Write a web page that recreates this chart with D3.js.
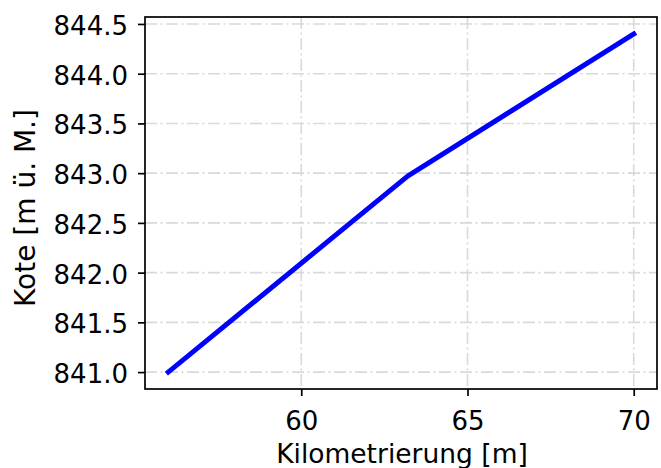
<!DOCTYPE html>
<html>
<head>
<meta charset="utf-8">
<script src="https://cdn.jsdelivr.net/npm/d3@7"></script>
<style>
  html, body { margin: 0; padding: 0; background: #fff; }
  svg { display: block; }
  text { font-family: "DejaVu Sans", sans-serif; fill: #000; }
</style>
</head>
<body>
<svg id="chart" width="661" height="468"></svg>
<script>
// Longitudinal profile: elevation along the chainage
const chainage = [56.0, 63.2, 70.0];
const elevation = [841.0, 842.97, 844.4];
const xTicks = [60, 65, 70];
const yTicks = [841.0, 841.5, 842.0, 842.5, 843.0, 843.5, 844.0, 844.5];
const xLabel = "Kilometrierung [m]";
const yLabel = "Kote [m ü. M.]";

const W = 661, H = 468;
const m = { left: 145, right: 657, top: 17, bottom: 389 };

const svg = d3.select("#chart");

// 5 % padding around the data range on both axes
const xExt = d3.extent(chainage), yExt = d3.extent(elevation);
const xPad = (xExt[1] - xExt[0]) * 0.05, yPad = (yExt[1] - yExt[0]) * 0.05;
const x = d3.scaleLinear().domain([xExt[0] - xPad, xExt[1] + xPad]).range([m.left, m.right]);
const y = d3.scaleLinear().domain([yExt[0] - yPad, yExt[1] + yPad]).range([m.bottom, m.top]);

// grid
const grid = svg.append("g")
  .attr("stroke", "#d9d9d9")
  .attr("stroke-width", 1.6)
  .attr("stroke-dasharray", "12,3.5,2,3.5");
grid.selectAll("line.v").data(xTicks).join("line")
  .attr("x1", d => x(d)).attr("x2", d => x(d))
  .attr("y1", m.top).attr("y2", m.bottom);
grid.selectAll("line.h").data(yTicks).join("line")
  .attr("y1", d => y(d)).attr("y2", d => y(d))
  .attr("x1", m.left).attr("x2", m.right);

// profile line
const line = d3.line().x((d, i) => x(chainage[i])).y(d => y(d));
svg.append("path")
  .datum(elevation)
  .attr("fill", "none")
  .attr("stroke", "#0000ff")
  .attr("stroke-width", 5)
  .attr("stroke-linejoin", "round")
  .attr("stroke-linecap", "square")
  .attr("d", line);

// axes
const fmtY = d3.format(".1f");
const xAxis = d3.axisBottom(x).tickValues(xTicks).tickSize(7).tickFormat(d3.format("d"));
const yAxis = d3.axisLeft(y).tickValues(yTicks).tickSize(7).tickPadding(10).tickFormat(fmtY);

const gx = svg.append("g").attr("transform", `translate(0,${m.bottom})`).call(xAxis);
const gy = svg.append("g").attr("transform", `translate(${m.left},0)`).call(yAxis);
[gx, gy].forEach(g => {
  g.select(".domain").remove();
  g.selectAll(".tick line").attr("stroke", "#000").attr("stroke-width", 1.7);
  g.selectAll(".tick text").attr("font-size", 26).attr("font-family", "DejaVu Sans").attr("fill", "#000");
});
gx.selectAll(".tick text").attr("y", 41).attr("dy", 0);
gy.selectAll(".tick text").attr("dy", "0.4em");

// frame
svg.append("rect")
  .attr("x", m.left).attr("y", m.top)
  .attr("width", m.right - m.left).attr("height", m.bottom - m.top)
  .attr("fill", "none").attr("stroke", "#000").attr("stroke-width", 1.7);

// labels
svg.append("text")
  .attr("x", (m.left + m.right) / 2 + 1).attr("y", 463)
  .attr("text-anchor", "middle").attr("font-size", 26.5)
  .text(xLabel);
svg.append("text")
  .attr("transform", `translate(35,208) rotate(-90)`)
  .attr("text-anchor", "middle").attr("font-size", 28)
  .text(yLabel);
</script>
</body>
</html>
